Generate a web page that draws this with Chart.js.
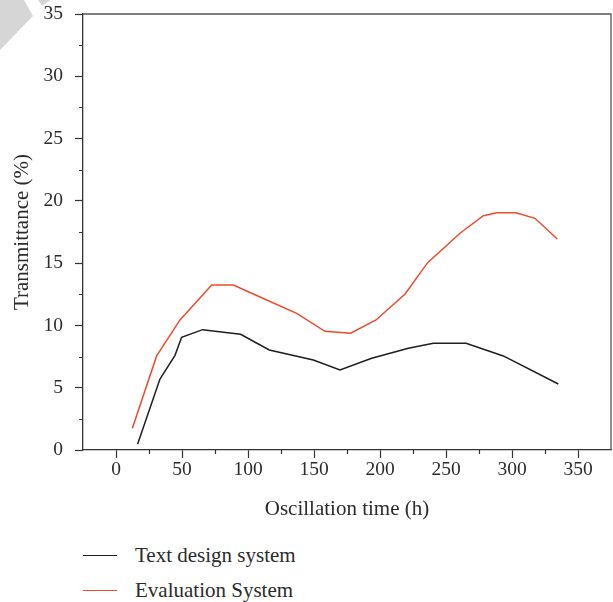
<!DOCTYPE html>
<html>
<head>
<meta charset="utf-8">
<script src="https://cdn.jsdelivr.net/npm/chart.js@4/dist/chart.umd.min.js"></script>
<style>
  html, body { margin: 0; padding: 0; background: #fff; }
  #wrap { position: relative; width: 613px; height: 602px; overflow: hidden; background: #fff; }
  #chartBox { position: absolute; left: 0; top: 0; width: 613px; height: 530px; }
  #corner1 { position: absolute; left: 0; top: 0; width: 60px; height: 60px; background: #d6d6d6;
             clip-path: polygon(0 0, 24px 0, 33px 16px, 0 50px); }
  #corner2 { position: absolute; left: 0; top: 0; width: 60px; height: 60px; background: #d6d6d6;
             clip-path: polygon(38px 0, 50px 0, 42px 6px); }
  #legend { position: absolute; left: 0; top: 540px; width: 613px; font-family: 'Liberation Serif', serif;
            font-size: 21px; color: #2b2b2b; }
  .item { position: absolute; left: 0; height: 26px; width: 400px; }
  .item .ln { position: absolute; left: 83px; width: 34px; top: 13px; height: 0; border-top: 1.5px solid #000; }
  .item .tx { position: absolute; left: 135px; top: 0px; white-space: nowrap; line-height: 26px; }
</style>
</head>
<body>
<div id="wrap">
  <div id="chartBox"><canvas id="c" width="613" height="530"></canvas></div>
  <div id="corner1"></div>
  <div id="corner2"></div>
  <div id="legend"></div>
</div>
<script>
// ---- data ----
const seriesNames = ['Text design system', 'Evaluation System'];
const blackX = [16.4, 33.3, 44.7, 49.7, 65.6, 94.4, 116.1, 149.5, 169.7, 193.7, 221.5, 240.4, 265.2, 293.4, 335.1];
const blackY = [0.48, 5.7, 7.6, 9.05, 9.66, 9.29, 8.03, 7.22, 6.42, 7.36, 8.16, 8.56, 8.56, 7.55, 5.3];
const redX = [12.4, 30.8, 48.5, 72.5, 88.9, 112.9, 136.9, 158.3, 177.8, 197, 219, 236.1, 260.6, 278.3, 288.4, 303, 317.4, 334.3];
const redY = [1.74, 7.55, 10.44, 13.25, 13.25, 12.1, 10.97, 9.53, 9.37, 10.44, 12.52, 15.04, 17.4, 18.81, 19.05, 19.05, 18.6, 16.94];
const xTicks = [0, 50, 100, 150, 200, 250, 300, 350];
const yTicks = [0, 5, 10, 15, 20, 25, 30, 35];
const xRange = [-25, 375];
const yRange = [0, 35];
const xTitle = 'Oscillation time (h)';
const yTitle = 'Transmittance (%)';

const colors = ['#1e1e1e', '#ef4a2c'];
const FONT = "'Liberation Serif', 'Times New Roman', serif";
const TEXT = '#2b2b2b';
const AXIS = '#333333';

function pts(xs, ys) { return xs.map((x, i) => ({ x: x, y: ys[i] })); }

// minor ticks and frame
const framePlugin = {
  id: 'frame',
  afterDraw(chart) {
    const ctx = chart.ctx, a = chart.chartArea;
    const xs = chart.scales.x, ys = chart.scales.y;
    ctx.save();
    ctx.strokeStyle = AXIS;
    ctx.lineWidth = 1.2;
    ctx.beginPath();
    for (let i = 0; i < xTicks.length - 1; i++) {
      const px = Math.round(xs.getPixelForValue((xTicks[i] + xTicks[i + 1]) / 2)) + 0.5;
      ctx.moveTo(px, a.bottom); ctx.lineTo(px, a.bottom + 4);
    }
    for (let i = 0; i < yTicks.length - 1; i++) {
      const py = Math.round(ys.getPixelForValue((yTicks[i] + yTicks[i + 1]) / 2)) + 0.5;
      ctx.moveTo(a.left, py); ctx.lineTo(a.left - 4, py);
    }
    ctx.stroke();
    ctx.strokeStyle = '#555555';
    ctx.lineWidth = 1.3;
    ctx.beginPath();
    ctx.moveTo(a.left, a.top); ctx.lineTo(a.right, a.top); ctx.lineTo(a.right, a.bottom);
    ctx.stroke();
    ctx.restore();
  }
};

const chart = new Chart(document.getElementById('c'), {
  type: 'line',
  data: {
    datasets: [
      { label: seriesNames[0], data: pts(blackX, blackY), borderColor: colors[0], borderWidth: 1.5,
        pointRadius: 0, tension: 0, fill: false },
      { label: seriesNames[1], data: pts(redX, redY), borderColor: colors[1], borderWidth: 1.5,
        pointRadius: 0, tension: 0, fill: false }
    ]
  },
  options: {
    responsive: false,
    animation: false,
    events: [],
    layout: { padding: { top: 14, right: 2, left: 0, bottom: 0 } },
    plugins: { legend: { display: false }, tooltip: { enabled: false } },
    scales: {
      x: {
        type: 'linear', min: xRange[0], max: xRange[1],
        afterBuildTicks: s => { s.ticks = xTicks.map(v => ({ value: v })); },
        afterFit: s => { s.height = 80; s.paddingLeft = 0; s.paddingRight = 0; },
        grid: { display: true, drawOnChartArea: false, drawTicks: true, tickLength: 8, tickColor: AXIS, tickWidth: 1.2 },
        border: { display: true, color: AXIS, width: 1.3 },
        ticks: { color: TEXT, font: { family: FONT, size: 19.5 }, padding: 0, maxRotation: 0, autoSkip: false },
        title: { display: true, text: xTitle, color: TEXT, font: { family: FONT, size: 21 }, padding: { top: 0, bottom: 8 } }
      },
      y: {
        type: 'linear', min: yRange[0], max: yRange[1],
        afterBuildTicks: s => { s.ticks = yTicks.map(v => ({ value: v })); },
        afterFit: s => { s.width = 83; s.paddingTop = 0; s.paddingBottom = 0; },
        grid: { display: true, drawOnChartArea: false, drawTicks: true, tickLength: 8, tickColor: AXIS, tickWidth: 1.2 },
        border: { display: true, color: AXIS, width: 1.3 },
        ticks: { color: TEXT, font: { family: FONT, size: 19.5 }, padding: 12, autoSkip: false },
        title: { display: true, text: yTitle, color: TEXT, font: { family: FONT, size: 21 }, padding: { top: 10, bottom: 0 } }
      }
    }
  },
  plugins: [framePlugin]
});

const leg = document.getElementById('legend');
chart.data.datasets.forEach((ds, i) => {
  const it = document.createElement('div');
  it.className = 'item';
  it.style.top = (i * 35 + 2) + 'px';
  it.innerHTML = '<div class="ln" style="border-top-color:' + ds.borderColor + '"></div><div class="tx"></div>';
  it.querySelector('.tx').textContent = ds.label;
  leg.appendChild(it);
});
</script>
</body>
</html>
